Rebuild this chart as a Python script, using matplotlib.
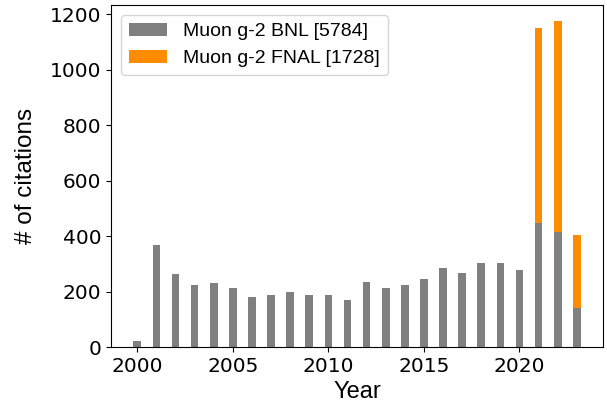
import matplotlib
matplotlib.use("Agg")
import matplotlib.pyplot as plt
import numpy as np

# citations per year
years = np.arange(2000, 2024)
bnl = [22, 368, 264, 222, 229, 211, 182, 186, 200, 186, 189, 168,
       236, 211, 222, 247, 285, 268, 304, 304, 279, 448, 414, 139]
fnal = [0] * 21 + [703, 760, 265]

label_font = ['Liberation Sans', 'DejaVu Sans']

fig = plt.figure(figsize=(6.07, 4.04), dpi=100)
ax = fig.add_axes([0.183, 0.141, 0.8104, 0.8466])

ax.bar(years, bnl, width=0.4, color='gray',
       label='Muon g-2 BNL [%d]' % sum(bnl))
ax.bar(years, fnal, width=0.4, bottom=bnl, color='darkorange',
       label='Muon g-2 FNAL [%d]' % sum(fnal))

ax.set_xlabel('Year', fontsize=17, family=label_font)
ax.set_ylabel('# of citations', fontsize=17.5, family=label_font, labelpad=9)
ax.tick_params(labelsize=14.5)
ax.set_xticks([2000, 2005, 2010, 2015, 2020])

ax.legend(loc='upper left', prop={'family': label_font, 'size': 14})

fig.savefig('out.png', dpi=100)
